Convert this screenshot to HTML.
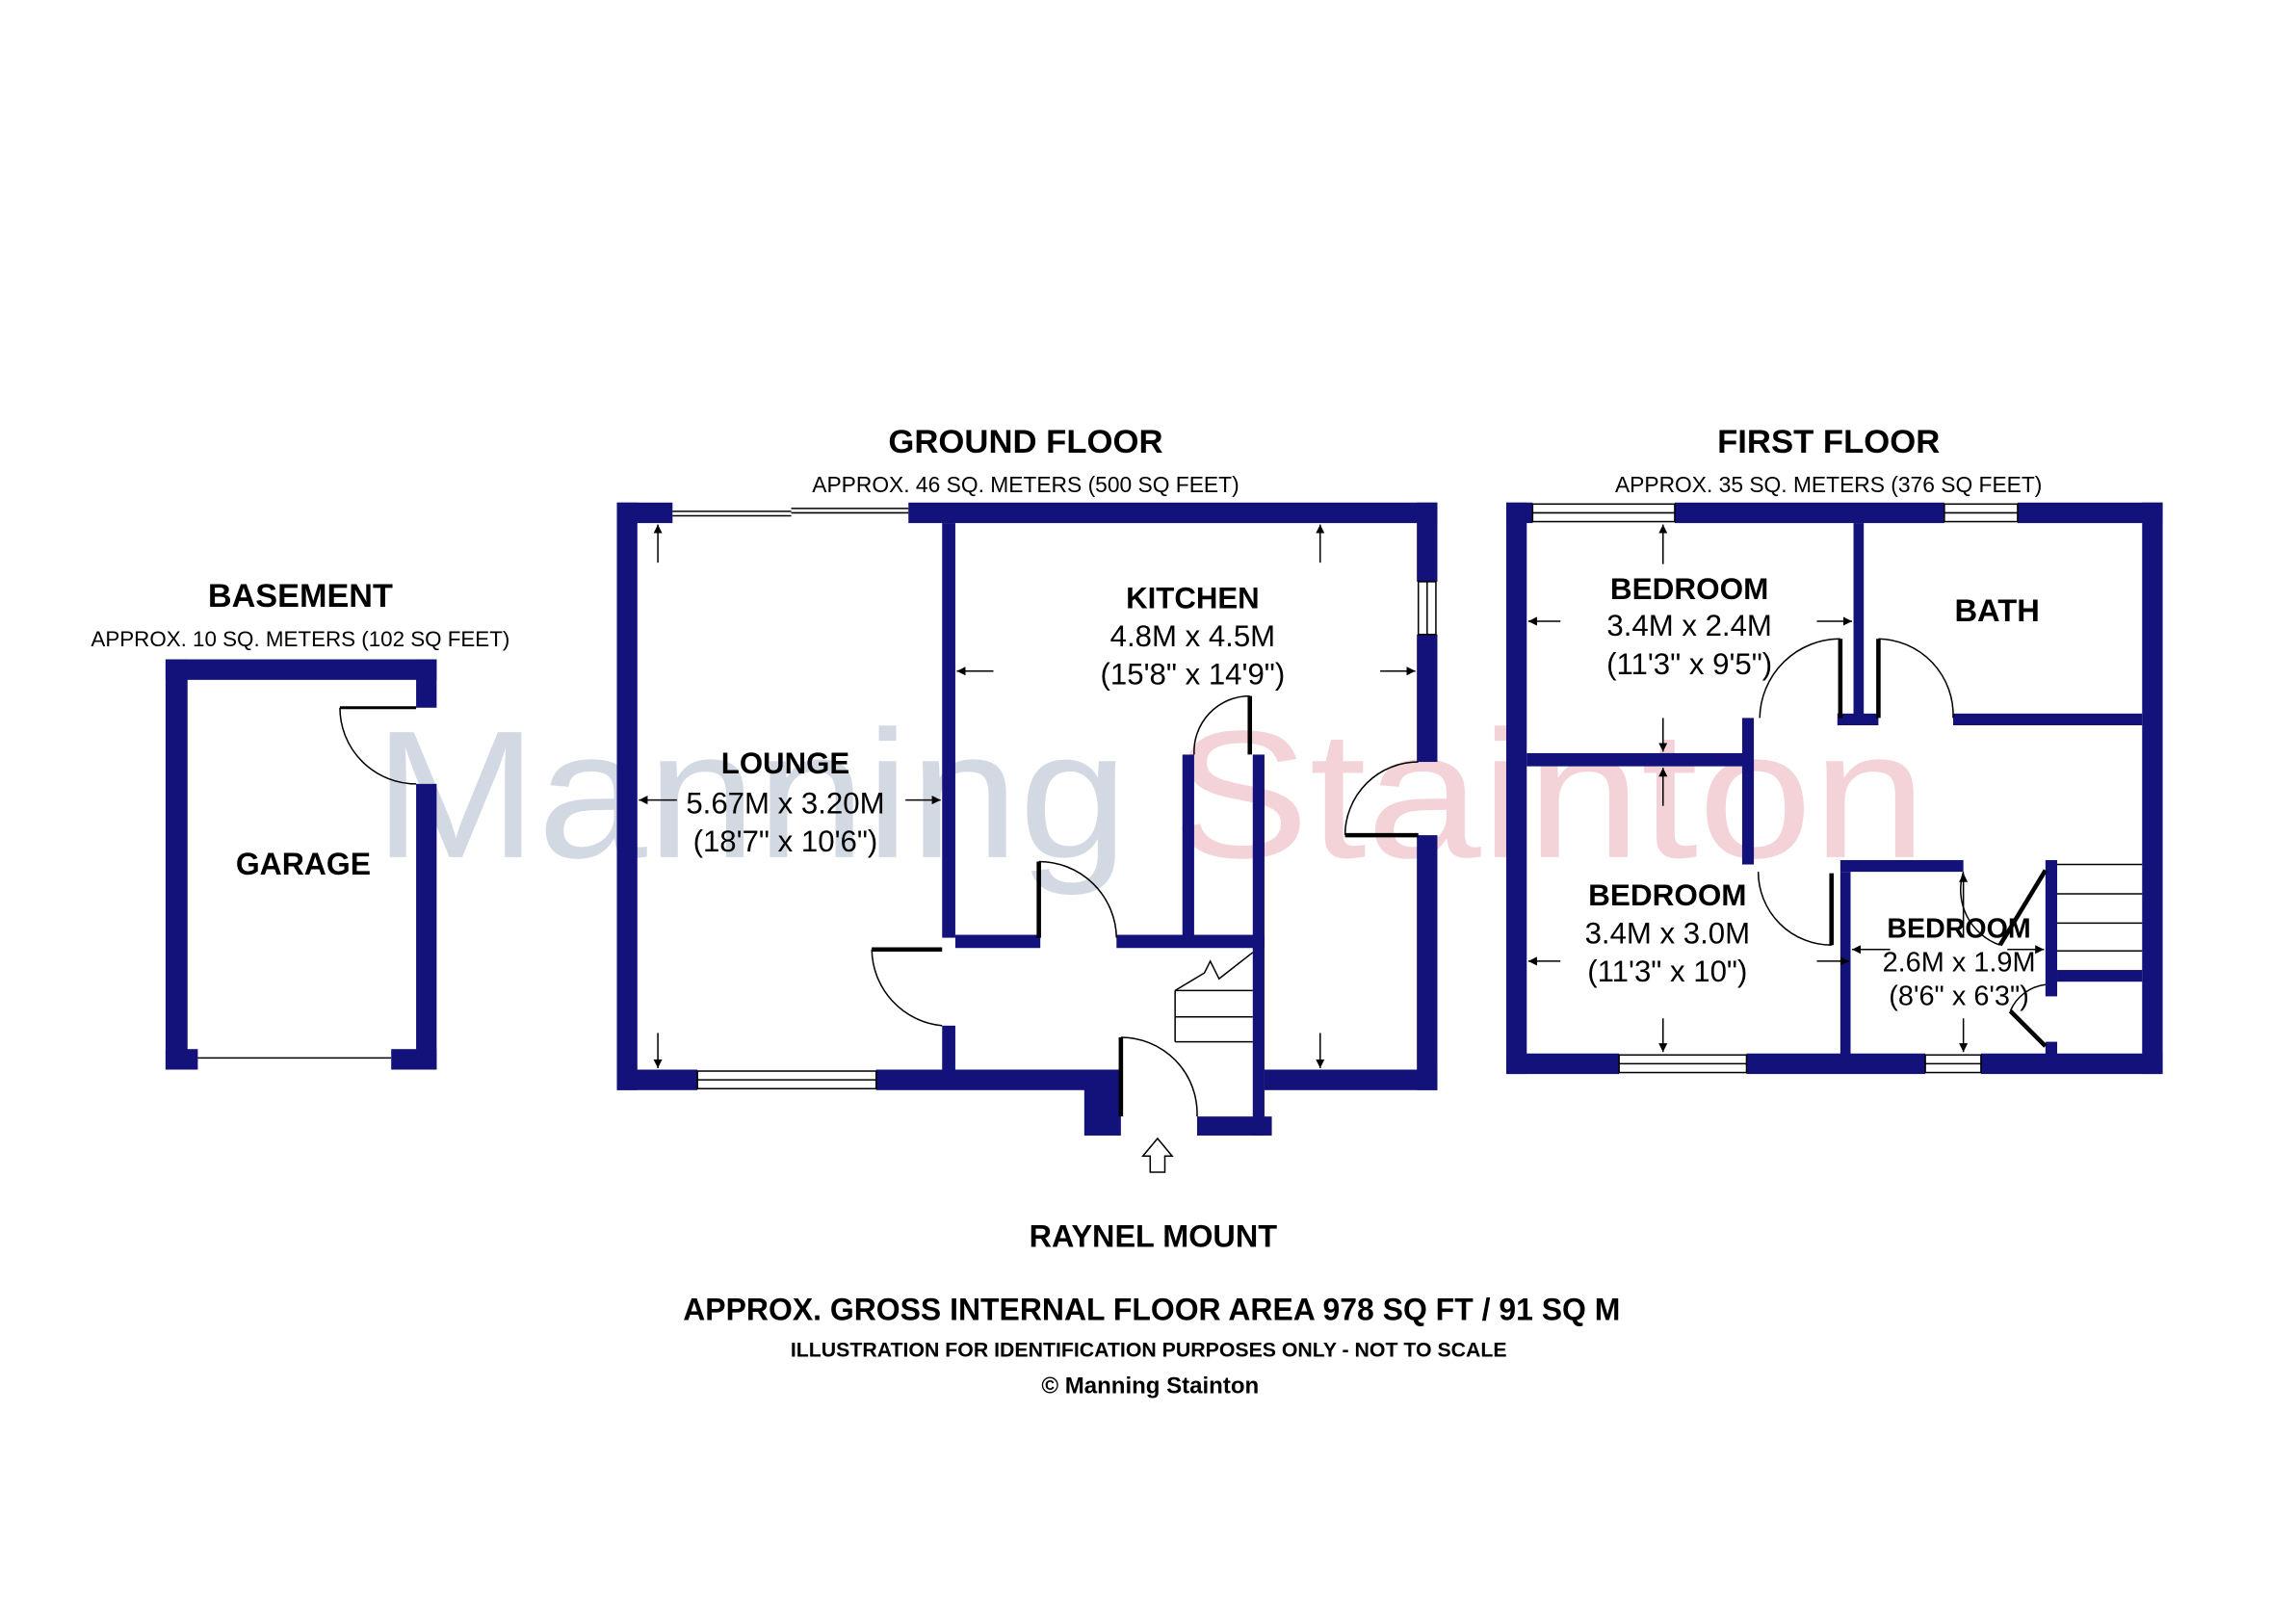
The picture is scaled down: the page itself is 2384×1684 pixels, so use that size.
<!DOCTYPE html>
<html><head><meta charset="utf-8"><style>
html,body{margin:0;padding:0;background:#fff;}
svg{display:block;}
text{font-family:"Liberation Sans",Arial,sans-serif;}
</style></head><body>
<svg width="2384" height="1684" viewBox="0 0 1567 1107" preserveAspectRatio="none" xmlns="http://www.w3.org/2000/svg">
<rect width="1567" height="1107" fill="#fff"/>
<!-- watermark -->
<text x="255" y="585" font-size="124" fill="#d3d9e3" textLength="515" lengthAdjust="spacingAndGlyphs">Manning</text>
<text x="800" y="585" font-size="124" fill="#f3d3d8" textLength="515" lengthAdjust="spacingAndGlyphs">Stainton</text>

<g fill="#12127a">
<rect x="113" y="450" width="185" height="14"/>
<rect x="113" y="450" width="15" height="280"/>
<rect x="284" y="450" width="14" height="33"/>
<rect x="284" y="535" width="14" height="195"/>
<rect x="113" y="716" width="22" height="14"/>
<rect x="267" y="716" width="31" height="14"/>

<rect x="421" y="343" width="38" height="14"/>
<rect x="620" y="343" width="361" height="14"/>
<rect x="421" y="343" width="14" height="401"/>
<rect x="967" y="343" width="14" height="54"/>
<rect x="967" y="433" width="14" height="87"/>
<rect x="967" y="570" width="14" height="174"/>
<rect x="421" y="730" width="55" height="14"/>
<rect x="598" y="730" width="165" height="14"/>
<rect x="863" y="730" width="118" height="14"/>
<rect x="643" y="357" width="9" height="283"/>
<rect x="643" y="700" width="9" height="30"/>
<rect x="652" y="638" width="58" height="9"/>
<rect x="762" y="638" width="101" height="9"/>
<rect x="807" y="515" width="8" height="125"/>
<rect x="855" y="515" width="8" height="260"/>
<rect x="740" y="730" width="25" height="45"/>
<rect x="817" y="762" width="51" height="13"/>
</g>
<g fill="none" stroke="#000" stroke-width="1">
<line x1="459" y1="349" x2="540" y2="349"/><line x1="459" y1="352" x2="540" y2="352"/>
<line x1="540" y1="347" x2="620" y2="347"/><line x1="540" y1="350" x2="620" y2="350"/>
<rect x="476" y="731" width="122" height="12"/><line x1="476" y1="737" x2="598" y2="737"/>
<rect x="968" y="397" width="12" height="36"/><line x1="974" y1="397" x2="974" y2="433"/>
<line x1="135" y1="722" x2="267" y2="722"/>
<path d="M709 588 A53 53 0 0 1 762 640"/>
<path d="M595 648 A53 53 0 0 0 643 700"/>
<path d="M853 475 A38 38 0 0 0 815 515"/>
<path d="M968 520 A50 50 0 0 0 918 570"/>
<path d="M765 708 A52 52 0 0 1 817 762"/>
<path d="M232 483 A52 52 0 0 0 284 535"/>
<line x1="802" y1="676" x2="855" y2="676"/><line x1="802" y1="694" x2="855" y2="694"/><line x1="802" y1="711" x2="855" y2="711"/>
<line x1="802" y1="676" x2="802" y2="711"/>
<path d="M802 676 L822 664 L826 656 L832 668 L855 650"/>
</g>
<g stroke="#000" stroke-width="3">
<line x1="709" y1="588" x2="709" y2="640"/>
<line x1="595" y1="648" x2="643" y2="648"/>
<line x1="853" y1="475" x2="853" y2="515"/>
<line x1="918" y1="570" x2="968" y2="570"/>
<line x1="765" y1="708" x2="765" y2="762"/>
<line x1="232" y1="483" x2="284" y2="483" stroke-width="2"/>
</g>

<g fill="#12127a">
<rect x="1028" y="343" width="18" height="14"/>
<rect x="1143" y="343" width="184" height="14"/>
<rect x="1377" y="343" width="99" height="14"/>
<rect x="1028" y="343" width="14" height="390"/>
<rect x="1462" y="343" width="14" height="390"/>
<rect x="1028" y="719" width="77" height="14"/>
<rect x="1192" y="719" width="122" height="14"/>
<rect x="1352" y="719" width="124" height="14"/>
<rect x="1265" y="357" width="7" height="135"/>
<rect x="1254" y="487" width="28" height="8"/>
<rect x="1333" y="487" width="129" height="8"/>
<rect x="1042" y="514" width="154" height="9"/>
<rect x="1189" y="490" width="8" height="100"/>
<rect x="1256" y="587" width="84" height="8"/>
<rect x="1256" y="595" width="7" height="125"/>
<rect x="1396" y="587" width="8" height="93"/>
<rect x="1404" y="662" width="58" height="8"/>
<rect x="1396" y="711" width="8" height="10"/>
</g>
<g fill="none" stroke="#000" stroke-width="1">
<rect x="1046" y="344" width="97" height="12"/><line x1="1046" y1="350" x2="1143" y2="350"/>
<rect x="1327" y="344" width="50" height="12"/><line x1="1327" y1="350" x2="1377" y2="350"/>
<rect x="1105" y="720" width="87" height="12"/><line x1="1105" y1="726" x2="1192" y2="726"/>
<rect x="1314" y="720" width="38" height="12"/><line x1="1314" y1="726" x2="1352" y2="726"/>
<path d="M1256 436 A55 55 0 0 0 1201 490"/>
<path d="M1282 436 A52 52 0 0 1 1333 490"/>
<path d="M1200 595 A50 50 0 0 0 1250 645"/>
<path d="M1340 595 A40 40 0 0 0 1365 645"/>
<path d="M1396 672 A30 30 0 0 0 1372 690"/>
<line x1="1404" y1="590" x2="1462" y2="590"/><line x1="1404" y1="610" x2="1462" y2="610"/>
<line x1="1404" y1="630" x2="1462" y2="630"/><line x1="1404" y1="649" x2="1462" y2="649"/>
</g>
<g stroke="#000" stroke-width="3">
<line x1="1256" y1="436" x2="1256" y2="490"/>
<line x1="1282" y1="436" x2="1282" y2="490"/>
<line x1="1250" y1="596" x2="1250" y2="645"/>
<line x1="1365" y1="645" x2="1396" y2="594"/>
<line x1="1372" y1="690" x2="1396" y2="714"/>
</g>

<defs><marker id="a" viewBox="0 0 10 10" refX="10" refY="5" markerWidth="6" markerHeight="6" orient="auto"><path d="M0 0 L10 5 L0 10 z" fill="#000"/></marker></defs>
<g stroke="#000" stroke-width="1" marker-end="url(#a)">
<line x1="449" y1="384" x2="449" y2="358"/><line x1="449" y1="705" x2="449" y2="729"/>
<line x1="462" y1="546" x2="436" y2="546"/><line x1="618" y1="546" x2="642" y2="546"/>
<line x1="901" y1="384" x2="901" y2="358"/><line x1="901" y1="705" x2="901" y2="729"/>
<line x1="678" y1="458" x2="653" y2="458"/><line x1="942" y1="458" x2="966" y2="458"/>
<line x1="1135" y1="385" x2="1135" y2="358"/><line x1="1135" y1="490" x2="1135" y2="513"/>
<line x1="1135" y1="550" x2="1135" y2="524"/><line x1="1135" y1="695" x2="1135" y2="718"/>
<line x1="1065" y1="424" x2="1043" y2="424"/><line x1="1240" y1="424" x2="1264" y2="424"/>
<line x1="1065" y1="656" x2="1043" y2="656"/><line x1="1240" y1="656" x2="1262" y2="656"/>
<line x1="1340" y1="640" x2="1340" y2="596"/><line x1="1340" y1="695" x2="1340" y2="718"/>
<line x1="1290" y1="648" x2="1264" y2="648"/><line x1="1370" y1="648" x2="1395" y2="648"/>
</g>
<path d="M785 800 L795 800 L795 789 L800 789 L790 777 L780 789 L785 789 Z" fill="none" stroke="#000"/>

<g text-anchor="middle" fill="#000">
<text x="205" y="414" font-size="22.5" font-weight="bold">BASEMENT</text>
<text x="205" y="441" font-size="14.7">APPROX. 10 SQ. METERS (102 SQ FEET)</text>
<text x="207" y="597" font-size="21" font-weight="bold">GARAGE</text>
<text x="700" y="309" font-size="22.8" font-weight="bold">GROUND FLOOR</text>
<text x="700" y="336" font-size="15">APPROX. 46 SQ. METERS (500 SQ FEET)</text>
<text x="1248" y="309" font-size="22.8" font-weight="bold">FIRST FLOOR</text>
<text x="1248" y="336" font-size="15">APPROX. 35 SQ. METERS (376 SQ FEET)</text>
<text x="814" y="415" font-size="20.5" font-weight="bold">KITCHEN</text>
<text x="814" y="441" font-size="20.5">4.8M x 4.5M</text>
<text x="814" y="467" font-size="20.5">(15'8" x 14'9")</text>
<text x="536" y="528" font-size="20.5" font-weight="bold">LOUNGE</text>
<text x="536" y="555" font-size="20.5">5.67M x 3.20M</text>
<text x="536" y="581" font-size="20.5">(18'7" x 10'6")</text>
<text x="1153" y="409" font-size="20.7" font-weight="bold">BEDROOM</text>
<text x="1153" y="434" font-size="20.5">3.4M x 2.4M</text>
<text x="1153" y="460" font-size="20.5">(11'3" x 9'5")</text>
<text x="1363" y="424" font-size="21.5" font-weight="bold">BATH</text>
<text x="1138" y="618" font-size="20.7" font-weight="bold">BEDROOM</text>
<text x="1138" y="644" font-size="20.5">3.4M x 3.0M</text>
<text x="1138" y="670" font-size="20.5">(11'3" x 10")</text>
<text x="1337" y="640" font-size="18.8" font-weight="bold">BEDROOM</text>
<text x="1337" y="663" font-size="19">2.6M x 1.9M</text>
<text x="1337" y="686" font-size="19">(8'6" x 6'3")</text>
<text x="787" y="851" font-size="21.3" font-weight="bold">RAYNEL MOUNT</text>
<text x="786" y="901" font-size="21" font-weight="bold">APPROX. GROSS INTERNAL FLOOR AREA 978 SQ FT / 91 SQ M</text>
<text x="784" y="926" font-size="14" font-weight="bold">ILLUSTRATION FOR IDENTIFICATION PURPOSES ONLY - NOT TO SCALE</text>
<text x="785" y="951" font-size="15.8" font-weight="bold">© Manning Stainton</text>
</g>
</svg>
</body></html>
